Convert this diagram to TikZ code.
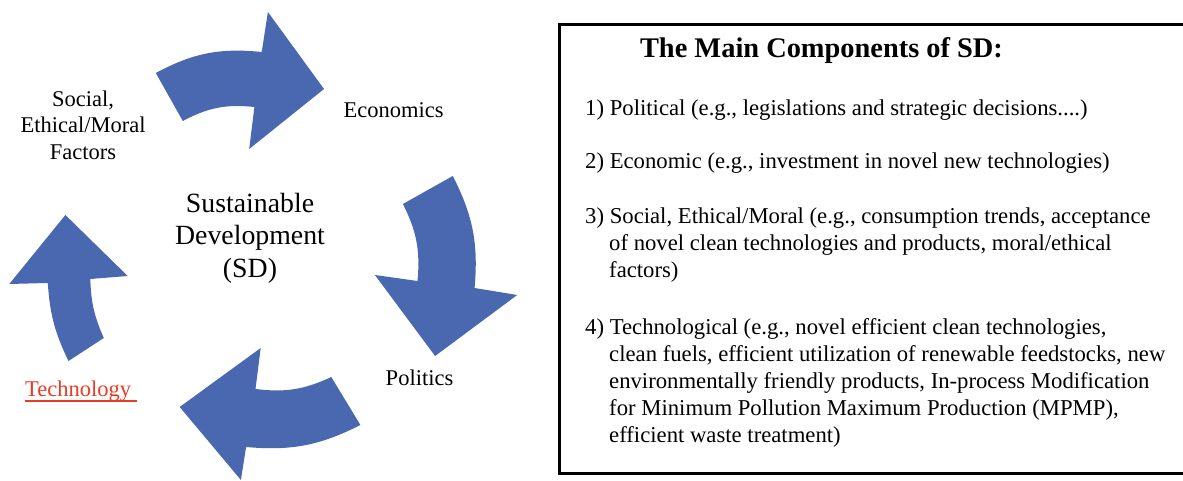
\documentclass[tikz,border=0pt]{standalone}
\usepackage{fontspec}
\setmainfont{Liberation Serif}
\usetikzlibrary{positioning}
\definecolor{cycleblue}{RGB}{74,104,176}
\definecolor{techred}{RGB}{233,59,37}
\tikzset{cyclearrow/.style={fill=cycleblue,draw=none},
  sidelabel/.style={draw=none,color=black,inner sep=0pt,align=center,font=\fontsize{22.5}{26.5}\selectfont},
  itembox/.style={draw=none,color=black,inner sep=0pt,align=left,font=\fontsize{22.7}{27.2}\selectfont}}
\newcommand{\contline}{\hspace*{24pt}}

\begin{document}
\begin{tikzpicture}[x=1pt,y=1pt]
  \useasboundingbox (0,0) rectangle (1183,481);

  % the four curved arrows of the cycle
  \fill[cyclearrow] (155.8,408) to[bend left=17] (261.7,429) -- (267.9,469) -- (324,392)
    -- (249.2,332) -- (254.4,374) to[bend right=17] (182.8,360) -- cycle;
  \fill[cyclearrow] (452.8,305) to[bend left=16] (474.6,193) -- (517.2,186) -- (435.1,125)
    -- (374.9,206) -- (417.5,200) to[bend right=16] (402.9,277) -- cycle;
  \fill[cyclearrow] (360.4,56) to[bend left=16] (246.1,34) -- (240.9,1) -- (179.7,74)
    -- (260.7,133) -- (255.5,92) to[bend right=16] (331.3,104) -- cycle;
  \fill[cyclearrow] (68.5,120) to[bend left=11] (47.8,198) -- (9.3,197) -- (65.4,266)
    -- (127.7,205) -- (90.3,202) to[bend right=11] (103.8,143) -- cycle;

  \node[sidelabel,font=\fontsize{27.8}{32.5}\selectfont] (sd) at (250,243) {Sustainable\\Development\\(SD)};
  \node[sidelabel] (social) at (83,356) {Social,\\Ethical/Moral\\Factors};
  \node[sidelabel,anchor=base] (econ) at (393.5,363) {Economics};
  \node[sidelabel,anchor=base] (pol) at (419.5,95) {Politics};
  \node[sidelabel,anchor=base west,text=techred] (tech) at (25,84) {Technology};
  \draw[techred,line width=2.5pt] ([yshift=-4pt]tech.base west) -- ([xshift=6pt,yshift=-4pt]tech.base east);

  % list of components (base = last line of each item)
  \draw[line width=3pt] (559.5,7.5) rectangle (1190,456.5);
  \node[itembox,font=\bfseries\fontsize{28.4}{34}\selectfont,anchor=base] (title) at (821.5,423) {The Main Components of SD:};
  \node[itembox,anchor=base west] (item1) at (585,365) {1) Political (e.g., legislations and strategic decisions....)};
  \node[itembox,below=53pt of item1.base west,anchor=base west] (item2) {2) Economic (e.g., investment in novel new technologies)};
  \node[itembox,below=109pt of item2.base west,anchor=base west] (item3) {3) Social, Ethical/Moral (e.g., consumption trends, acceptance\\
    \contline of novel clean technologies and products, moral/ethical\\
    \contline factors)};
  \node[itembox,below=165pt of item3.base west,anchor=base west] (item4) {4) Technological (e.g., novel efficient clean technologies,\\
    \contline clean fuels, efficient utilization of renewable feedstocks, new\\
    \contline environmentally friendly products, In-process Modification\\
    \contline for Minimum Pollution Maximum Production (MPMP),\\
    \contline efficient waste treatment)};
\end{tikzpicture}
\end{document}
